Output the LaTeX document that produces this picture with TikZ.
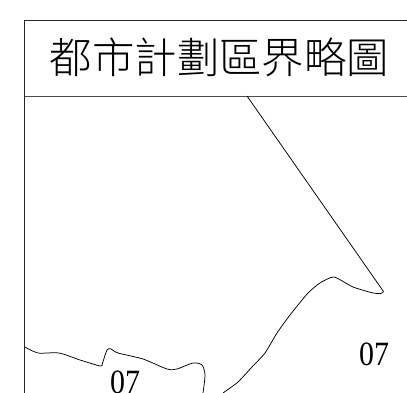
\documentclass[tikz,border=0pt]{standalone}
\usepackage{fontspec}
\setmainfont{Liberation Serif}
\newfontfamily\cjk{Noto Sans CJK TC Light}
\tikzset{
  frameline/.style={draw=black!85,line width=0.9pt},
  boundary/.style={draw=black,line width=0.75pt,line join=round},
  zonelabel/.style={inner sep=0pt,xscale=0.88,font=\fontsize{34}{34}\selectfont},
}
\begin{document}
\begin{tikzpicture}[x=1pt,y=-1pt]
\useasboundingbox (0,0) rectangle (407,393);
\clip (0,0) rectangle (407,393);
\fill[white] (0,0) rectangle (407,393);
\draw[frameline] (407,20.5) -- (24.5,20.5) -- (24.5,393);
\draw[frameline,draw=black!70] (24.5,96) -- (407,96);
\node[inner sep=0pt,font=\cjk\fontsize{42.4}{43}\selectfont] (title) at (219.5,57) {都市計劃區界略圖};
\draw[boundary] plot[smooth,tension=0.45] coordinates {(25,347) (38,353) (59,353) (80,360) (100,366) (102,365)};
\draw[boundary] plot[smooth,tension=0.45] coordinates {(102,365) (107,350) (111,349) (118,353) (143,359) (167,369) (177,369) (193,363) (202,365) (205,375) (203,393)};
\draw[boundary] plot[smooth,tension=0.35] coordinates {(223,393) (238,382) (252,367) (265,353) (277,333) (290,315) (308,293) (320,283) (334,277) (353,287) (373,293) (381,293.5) (383.5,291.5)};
\draw[boundary] (383.5,291.5) -- (247,96);
\node[zonelabel] (a) at (374,354) {07};
\node[zonelabel] (b) at (125,382) {07};
\end{tikzpicture}
\end{document}
